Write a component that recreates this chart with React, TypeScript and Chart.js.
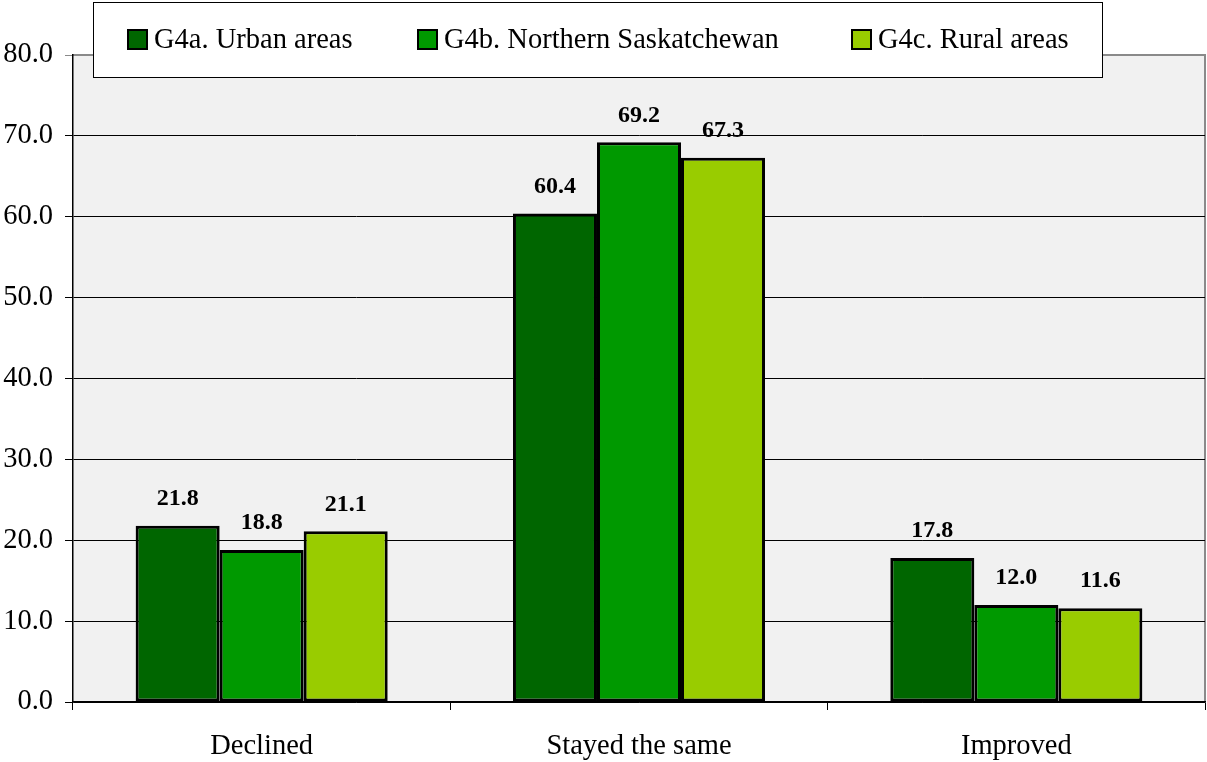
import React, { useEffect, useRef } from "react";
import { Chart, registerables } from "chart.js";

Chart.register(...registerables);

const categories = ["Declined", "Stayed the same", "Improved"];
const seriesNames = ["G4a. Urban areas", "G4b. Northern Saskatchewan", "G4c. Rural areas"];
const urban = [21.8, 60.4, 17.8];
const northern = [18.8, 69.2, 12.0];
const rural = [21.1, 67.3, 11.6];
const seriesColors = ["#006600", "#009900", "#99cc00"];
const yTicks = [0, 10, 20, 30, 40, 50, 60, 70, 80];

const FONT = "'Liberation Serif', 'Times New Roman', serif";

const bgPlugin = {
  id: "plotBg",
  beforeDraw(chart: any) {
    const { ctx, chartArea: a } = chart;
    ctx.save();
    ctx.fillStyle = "#f1f1f1";
    ctx.fillRect(a.left, a.top, a.right - a.left, a.bottom - a.top);
    ctx.strokeStyle = "#8a8a8a";
    ctx.lineWidth = 2;
    ctx.beginPath();
    ctx.moveTo(a.left, a.top);
    ctx.lineTo(a.right, a.top);
    ctx.lineTo(a.right, a.bottom);
    ctx.stroke();
    ctx.restore();
  },
};

const labelPlugin = {
  id: "valueLabels",
  afterDatasetsDraw(chart: any) {
    const { ctx } = chart;
    ctx.save();
    ctx.font = `bold 24px ${FONT}`;
    ctx.fillStyle = "#000";
    ctx.textAlign = "center";
    ctx.textBaseline = "middle";
    chart.data.datasets.forEach((ds: any, i: number) => {
      const meta = chart.getDatasetMeta(i);
      meta.data.forEach((bar: any, j: number) => {
        ctx.fillText(Number(ds.data[j]).toFixed(1), bar.x, bar.y - 27);
      });
    });
    ctx.restore();
  },
};

const legendPlugin = {
  id: "boxLegend",
  afterDraw(chart: any) {
    const { ctx } = chart;
    ctx.save();
    ctx.fillStyle = "#fff";
    ctx.fillRect(93, 2, 1009, 75);
    ctx.strokeStyle = "#000";
    ctx.lineWidth = 1;
    ctx.strokeRect(93.5, 2.5, 1009, 75);
    const xs = [128, 418, 852];
    ctx.font = `28.5px ${FONT}`;
    ctx.textBaseline = "middle";
    ctx.textAlign = "left";
    chart.data.datasets.forEach((ds: any, i: number) => {
      const x = xs[i];
      ctx.fillStyle = ds.backgroundColor;
      ctx.fillRect(x, 30, 19, 19);
      ctx.lineWidth = 2;
      ctx.strokeStyle = "#000";
      ctx.strokeRect(x, 30, 19, 19);
      ctx.fillStyle = "#000";
      ctx.fillText(ds.label, x + 26, 41);
    });
    ctx.restore();
  },
};

export default function App() {
  const ref = useRef<HTMLCanvasElement>(null);
  useEffect(() => {
    document.body.style.margin = "0";
    const values = [urban, northern, rural];
    const chart = new Chart(ref.current!, {
      type: "bar",
      data: {
        labels: categories,
        datasets: seriesNames.map((name, i) => ({
          label: name,
          data: values[i],
          backgroundColor: seriesColors[i],
          borderColor: "#000",
          borderWidth: 3,
          borderSkipped: false,
          categoryPercentage: 0.668,
          barPercentage: 1,
        })),
      },
      options: {
        animation: false,
        responsive: false,
        maintainAspectRatio: false,
        layout: { padding: { top: 55, right: 2, left: 0, bottom: 0 } },
        plugins: { legend: { display: false }, tooltip: { enabled: false } },
        scales: {
          x: {
            offset: true,
            grid: { drawOnChartArea: false, drawTicks: true, tickLength: 8, color: "#000", offset: true },
            border: { color: "#000", width: 1.5 },
            ticks: { color: "#000", font: { family: FONT, size: 28.5 }, padding: 19 },
            afterFit(s: any) { s.height = 60; },
          },
          y: {
            min: 0,
            max: 80,
            afterBuildTicks(s: any) { s.ticks = yTicks.map((v) => ({ value: v })); },
            grid: {
              color: (c: any) => (c.tick && c.tick.value === 80 ? "#8a8a8a" : "#000"),
              tickLength: 8,
              lineWidth: 1,
            },
            border: { color: "#000", width: 1.5 },
            ticks: {
              color: "#000",
              font: { family: FONT, size: 28.5 },
              padding: 12,
              callback: (v: any) => Number(v).toFixed(1),
            },
            afterFit(s: any) { s.width = 73; },
          },
        },
      },
      plugins: [bgPlugin, labelPlugin, legendPlugin],
    });
    return () => chart.destroy();
  }, []);
  return (
    <div style={{ width: 1207, height: 762 }}>
      <canvas ref={ref} width={1207} height={762} style={{ display: "block" }} />
    </div>
  );
}
